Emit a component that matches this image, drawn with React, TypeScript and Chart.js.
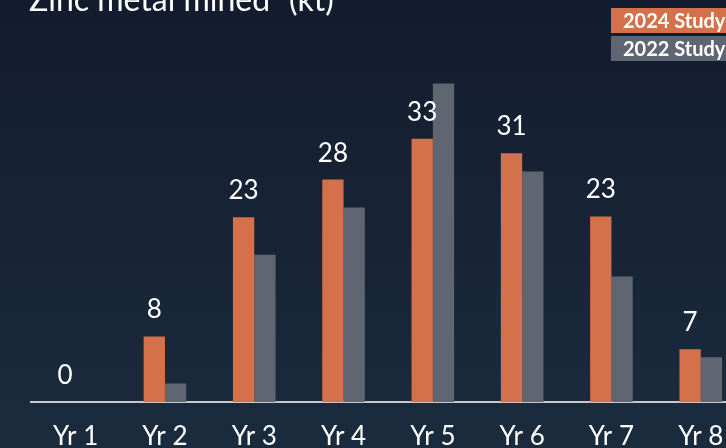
import React, { useEffect, useRef } from "react";
import { Chart, registerables } from "chart.js";

Chart.register(...registerables);

const categories = ["Yr 1", "Yr 2", "Yr 3", "Yr 4", "Yr 5", "Yr 6", "Yr 7", "Yr 8"];
const study2024 = [0, 8.2, 23.1, 27.8, 32.9, 31.1, 23.2, 6.6];
const study2022 = [0, 2.3, 18.4, 24.3, 39.8, 28.8, 15.7, 5.6];
const seriesNames = ["2024 Study", "2022 Study"];
const titleText = "Zinc metal mined\u00b9 (kt)";

const ORANGE = "#d4714a";
const GRAY = "#5f6571";

const overlayPlugin = {
  id: "overlay",
  afterDatasetsDraw(chart: any) {
    const ctx = chart.ctx;
    ctx.save();
    // data labels for 2024 series
    const meta = chart.getDatasetMeta(0);
    ctx.fillStyle = "#ffffff";
    ctx.font = "26px Lato";
    ctx.textAlign = "center";
    ctx.textBaseline = "alphabetic";
    meta.data.forEach((bar: any, i: number) => {
      const v = study2024[i];
      ctx.fillText(String(Math.round(v)), bar.x, bar.y - 18);
    });
    // title
    ctx.textAlign = "left";
    ctx.font = "32px Lato";
    ctx.fillText(titleText, 29, 11);
    // legend
    const colors = [ORANGE, GRAY];
    seriesNames.forEach((name, i) => {
      const y = 8 + i * 28;
      ctx.fillStyle = colors[i];
      ctx.fillRect(611, y, 200, 25);
      ctx.fillStyle = "#ffffff";
      ctx.font = "bold 20px Lato";
      ctx.fillText(name, 623, y + 20);
    });
    ctx.restore();
  },
};

export default function App() {
  const ref = useRef<HTMLCanvasElement>(null);
  useEffect(() => {
    document.body.style.margin = "0";
    let chart: Chart | null = null;
    let cancelled = false;
    const make = () => {
      if (cancelled || !ref.current) return;
      chart = new Chart(ref.current, {
        type: "bar",
        data: {
          labels: categories,
          datasets: [
            { label: seriesNames[0], data: study2024, backgroundColor: ORANGE, categoryPercentage: 0.477, barPercentage: 1 },
            { label: seriesNames[1], data: study2022, backgroundColor: GRAY, categoryPercentage: 0.477, barPercentage: 1 },
          ],
        },
        options: {
          responsive: false,
          animation: false,
          layout: { padding: { left: 31, right: 14.6, top: 2, bottom: 0 } },
          plugins: { legend: { display: false }, tooltip: { enabled: false }, title: { display: false } },
          scales: {
            y: { display: false, min: 0, max: 50 },
            x: {
              grid: { display: false, drawTicks: false },
              border: { display: true, color: "#c8c8c8", width: 2 },
              ticks: { color: "#ffffff", font: { family: "Lato", size: 26 }, padding: 19, maxRotation: 0, autoSkip: false },
              afterFit: (scale: any) => {
                scale.height = 46;
              },
            },
          },
        },
        plugins: [overlayPlugin],
      });
    };
    Promise.all([
      document.fonts.load("24px Lato"),
      document.fonts.load("bold 18px Lato"),
    ]).then(make, make);
    return () => {
      cancelled = true;
      if (chart) chart.destroy();
    };
  }, []);
  return (
    <div
      style={{
        position: "relative",
        width: 726,
        height: 448,
        overflow: "hidden",
        background: "linear-gradient(180deg, #131c2e 0%, #1b2b3e 100%)",
      }}
    >
      <canvas ref={ref} width={760} height={448} style={{ position: "absolute", left: 0, top: 0 }} />
    </div>
  );
}
